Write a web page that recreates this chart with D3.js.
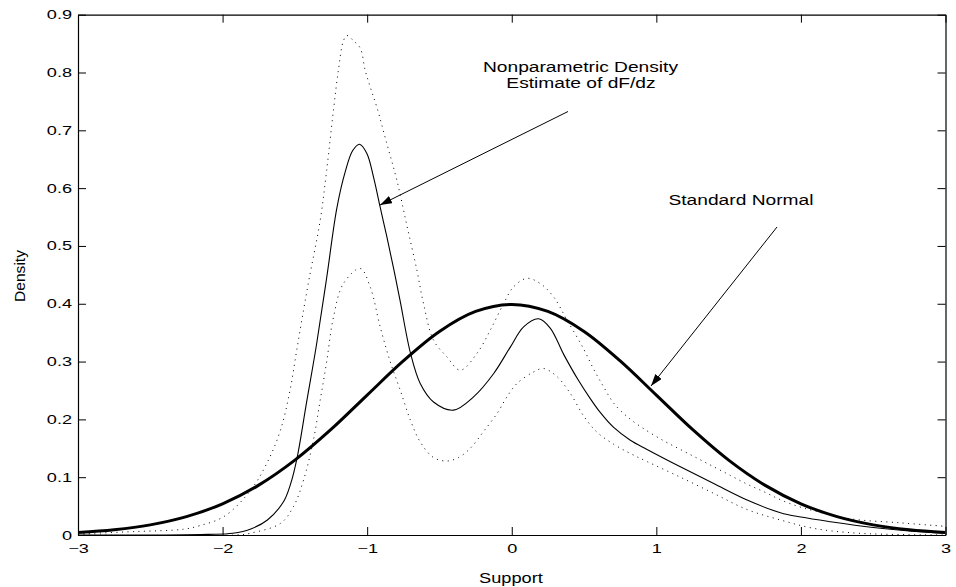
<!DOCTYPE html>
<html>
<head>
<meta charset="utf-8">
<script src="https://cdn.jsdelivr.net/npm/d3@7"></script>
<style>
  body { margin: 0; background: #fff; }
  svg { display: block; font-family: "Liberation Sans", Arial, Helvetica, sans-serif; }
</style>
</head>
<body>
<svg id="chart"></svg>
<script>
var width = 956,
    height = 587,
    left = 78,
    right = 945.5,
    top_ = 14.7,
    bottom = 535;

// tick labels
var xTicks = [-3, -2, -1, 0, 1, 2, 3];
var yTicks = [0, 0.1, 0.2, 0.3, 0.4, 0.5, 0.6, 0.7, 0.8, 0.9];

var normalX = [-3, -2.75, -2.5, -2.25, -2, -1.75, -1.5, -1.25, -1, -0.75, -0.5, -0.25, 0,
               0.25, 0.5, 0.75, 1, 1.25, 1.5, 1.75, 2, 2.25, 2.5, 2.75, 3];
var normalY = [0.0044, 0.0091, 0.0175, 0.0317, 0.054, 0.0863, 0.1295, 0.1826, 0.242, 0.3011, 0.3521, 0.3867, 0.3989,
               0.3867, 0.3521, 0.3011, 0.242, 0.1826, 0.1295, 0.0863, 0.054, 0.0317, 0.0175, 0.0091, 0.0044];

// nonparametric density estimate (solid)
var estimate = [[-3, 0], [-2.4, 0], [-2.1, 0.001], [-1.93, 0.003], [-1.8, 0.011], [-1.69, 0.026], [-1.58, 0.057],
  [-1.53, 0.088], [-1.485, 0.133], [-1.42, 0.228], [-1.35, 0.33], [-1.28, 0.445], [-1.21, 0.565], [-1.152, 0.628],
  [-1.1, 0.665], [-1.053, 0.676], [-1.002, 0.66], [-0.956, 0.619], [-0.91, 0.567], [-0.864, 0.516], [-0.818, 0.462],
  [-0.772, 0.405], [-0.7, 0.314], [-0.633, 0.262], [-0.541, 0.23], [-0.403, 0.216], [-0.264, 0.239],
  [-0.126, 0.279], [-0.01, 0.325], [0.082, 0.36], [0.186, 0.374], [0.266, 0.358], [0.36, 0.312], [0.46, 0.268],
  [0.543, 0.236], [0.612, 0.212], [0.705, 0.186], [0.82, 0.164], [0.936, 0.148], [1.166, 0.118], [1.397, 0.089],
  [1.628, 0.0605], [1.858, 0.0385], [2.0, 0.031], [2.204, 0.023], [2.5, 0.013], [2.75, 0.007], [3, 0.003]];

// upper confidence band (dotted)
var upper = [[-3, 0.002], [-2.6, 0.006], [-2.27, 0.01], [-2.16, 0.016], [-1.99, 0.032], [-1.81, 0.076],
  [-1.694, 0.124], [-1.6, 0.181], [-1.533, 0.251], [-1.487, 0.32], [-1.44, 0.389], [-1.4, 0.445],
  [-1.325, 0.544], [-1.28, 0.631], [-1.233, 0.735], [-1.199, 0.804], [-1.164, 0.855], [-1.14, 0.864],
  [-1.095, 0.855], [-1.048, 0.842], [-1.014, 0.804], [-0.979, 0.775], [-0.933, 0.74], [-0.864, 0.677],
  [-0.795, 0.614], [-0.725, 0.535], [-0.656, 0.458], [-0.61, 0.4], [-0.541, 0.337], [-0.448, 0.308],
  [-0.356, 0.285], [-0.241, 0.314], [-0.149, 0.354], [-0.057, 0.4], [0.012, 0.429], [0.105, 0.444],
  [0.197, 0.435], [0.289, 0.412], [0.382, 0.372], [0.497, 0.322], [0.566, 0.287], [0.636, 0.256],
  [0.705, 0.228], [0.797, 0.205], [0.912, 0.184], [1.051, 0.163], [1.166, 0.148], [1.282, 0.133],
  [1.397, 0.118], [1.512, 0.103], [1.628, 0.088], [1.743, 0.075], [1.858, 0.061], [1.974, 0.05],
  [2.089, 0.042], [2.343, 0.028], [2.689, 0.021], [3, 0.015]];

// lower confidence band (dotted)
var lower = [[-3, 0], [-1.9, 0], [-1.81, 0.003], [-1.6, 0.02], [-1.51, 0.049], [-1.44, 0.095], [-1.372, 0.164],
  [-1.325, 0.233], [-1.28, 0.3], [-1.233, 0.377], [-1.164, 0.435], [-1.048, 0.461], [-0.979, 0.429],
  [-0.91, 0.36], [-0.841, 0.3], [-0.772, 0.251], [-0.7, 0.198], [-0.633, 0.161], [-0.541, 0.134],
  [-0.448, 0.128], [-0.368, 0.134], [-0.287, 0.15], [-0.195, 0.179], [-0.102, 0.21], [-0.033, 0.239],
  [0.036, 0.262], [0.151, 0.282], [0.22, 0.288], [0.313, 0.274], [0.405, 0.245], [0.497, 0.206],
  [0.589, 0.178], [0.705, 0.157], [0.82, 0.141], [0.936, 0.127], [1.166, 0.1], [1.397, 0.072],
  [1.628, 0.044], [1.858, 0.026], [2.089, 0.0115], [2.4, 0.003], [3, 0]];

var x = d3.scaleLinear().domain([-3, 3]).range([left, right]);
var y = d3.scaleLinear().domain([0, 0.9]).range([bottom, top_]);

var svg = d3.select("#chart").attr("width", width).attr("height", height);

// stretch text horizontally like the original export
function stretch(sel, k) {
  sel.each(function() {
    var w = this.getComputedTextLength();
    d3.select(this).attr("textLength", w * k).attr("lengthAdjust", "spacingAndGlyphs");
  });
}

svg.append("defs").append("clipPath").attr("id", "clip")
  .append("rect")
    .attr("x", left).attr("y", top_)
    .attr("width", right - left).attr("height", bottom - top_);

svg.select("defs").append("marker")
    .attr("id", "head")
    .attr("markerUnits", "userSpaceOnUse")
    .attr("viewBox", "0 0 12 8")
    .attr("refX", 12).attr("refY", 4)
    .attr("markerWidth", 12).attr("markerHeight", 8)
    .attr("orient", "auto")
  .append("path")
    .attr("d", "M0,0L12,4L0,8Z")
    .attr("fill", "#000");

// axes, ticks pointing inward
var ax = svg.append("g").attr("class", "axes");

ax.append("g").attr("transform", "translate(0," + bottom + ")")
  .call(d3.axisBottom(x).tickValues(xTicks).tickSizeInner(-8).tickSizeOuter(0).tickPadding(9)
    .tickFormat(d3.format("d")));
ax.append("g").attr("transform", "translate(0," + top_ + ")")
  .call(d3.axisTop(x).tickValues(xTicks).tickSizeInner(-8).tickSizeOuter(0).tickFormat(""));
ax.append("g").attr("transform", "translate(" + left + ",0)")
  .call(d3.axisLeft(y).tickValues(yTicks).tickSizeInner(-8).tickSizeOuter(0).tickPadding(6)
    .tickFormat(function(d) { return d === 0 ? "0" : d3.format(".1f")(d); }));
ax.append("g").attr("transform", "translate(" + right + ",0)")
  .call(d3.axisRight(y).tickValues(yTicks).tickSizeInner(-8).tickSizeOuter(0).tickFormat(""));

ax.selectAll("g").attr("font-size", 12.5).attr("font-family", null);
ax.selectAll(".domain").attr("stroke", "#000").attr("stroke-width", 1.2);
ax.selectAll(".tick line").attr("stroke", "#000");
ax.selectAll(".tick text").attr("fill", "#000").call(stretch, 1.45);

// curves
var line = d3.line()
  .x(function(d) { return x(d[0]); })
  .y(function(d) { return y(d[1]); })
  .curve(d3.curveCatmullRom.alpha(0.5));

var plot = svg.append("g").attr("clip-path", "url(#clip)");

plot.append("path")
  .datum(upper)
  .attr("d", line)
  .attr("fill", "none")
  .attr("stroke", "#000")
  .attr("stroke-width", 1)
  .attr("stroke-dasharray", "1,4.5");

plot.append("path")
  .datum(lower)
  .attr("d", line)
  .attr("fill", "none")
  .attr("stroke", "#000")
  .attr("stroke-width", 1)
  .attr("stroke-dasharray", "1,4.5");

plot.append("path")
  .datum(estimate)
  .attr("d", line)
  .attr("fill", "none")
  .attr("stroke", "#000")
  .attr("stroke-width", 1.1);

plot.append("path")
  .datum(normalX.map(function(v, i) { return [v, normalY[i]]; }))
  .attr("d", line)
  .attr("fill", "none")
  .attr("stroke", "#000")
  .attr("stroke-width", 3);

// annotations
var notes = svg.append("g").attr("font-size", 14).attr("fill", "#000").attr("text-anchor", "middle");

notes.append("text").attr("x", 580.5).attr("y", 72).text("Nonparametric Density").call(stretch, 1.37);
notes.append("text").attr("x", 581).attr("y", 88).text("Estimate of dF/dz").call(stretch, 1.37);
notes.append("text").attr("x", 741).attr("y", 205).text("Standard Normal").call(stretch, 1.37);

svg.append("line")
  .attr("x1", 568).attr("y1", 111.5)
  .attr("x2", 380).attr("y2", 205)
  .attr("stroke", "#000").attr("stroke-width", 1)
  .attr("marker-end", "url(#head)");

svg.append("line")
  .attr("x1", 777).attr("y1", 227)
  .attr("x2", 651).attr("y2", 386)
  .attr("stroke", "#000").attr("stroke-width", 1)
  .attr("marker-end", "url(#head)");

// axis titles
svg.append("text")
  .attr("x", 511).attr("y", 583)
  .attr("text-anchor", "middle").attr("font-size", 14)
  .text("Support").call(stretch, 1.3);

svg.append("text")
  .attr("transform", "translate(25,276) rotate(-90)")
  .attr("text-anchor", "middle").attr("font-size", 15)
  .text("Density")
  .attr("textLength", 52).attr("lengthAdjust", "spacingAndGlyphs");
</script>
</body>
</html>
